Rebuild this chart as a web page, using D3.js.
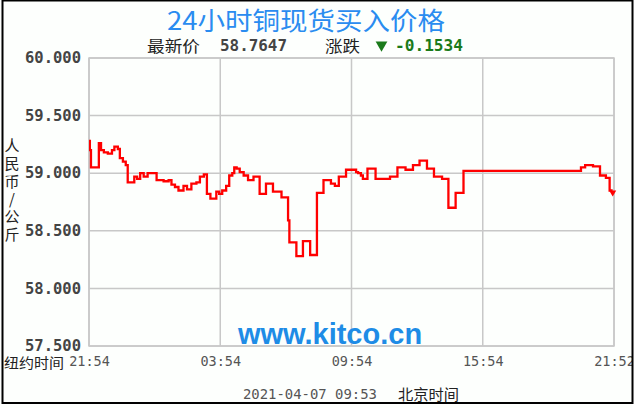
<!DOCTYPE html>
<html><head><meta charset="utf-8">
<script src="https://cdn.jsdelivr.net/npm/d3@7"></script>
<style>html,body{margin:0;padding:0;background:#fff;}svg{display:block;}</style>
</head><body>
<svg id="c" width="636" height="408"></svg>
<script>
// hours since 21:54 New York time, at which each price level starts
const hours = [0.00,0.04,0.09,0.45,0.55,0.68,0.86,1.05,1.16,1.32,1.41,1.55,1.68,1.77,2.07,2.20,2.34,2.50,2.68,3.09,
  3.41,3.64,3.77,3.93,4.09,4.32,4.48,4.68,4.91,5.07,5.25,5.39,5.55,5.82,5.95,6.09,6.27,6.41,6.55,6.64,
  6.75,6.89,7.07,7.27,7.52,7.80,8.09,8.41,8.80,9.10,9.16,9.48,9.78,10.11,10.42,10.72,11.06,11.24,11.42,11.75,
  12.21,12.30,12.43,12.52,12.73,13.10,13.76,14.10,14.47,14.81,15.11,15.45,15.77,16.14,16.43,16.76,17.12,22.49,22.68,23.04,
  23.36,23.63,23.80,23.94];
const prices = [59.28,59.20,59.05,59.26,59.20,59.18,59.17,59.20,59.23,59.21,59.13,59.10,59.07,58.92,58.97,58.95,59.00,58.97,59.00,58.94,
  58.93,58.94,58.90,58.88,58.85,58.89,58.86,58.91,58.92,58.97,58.99,58.82,58.78,58.84,58.82,58.85,58.89,58.98,59.00,59.05,
  59.04,59.01,58.98,58.94,58.97,58.82,58.91,58.84,58.79,58.59,58.40,58.28,58.41,58.29,58.83,58.94,58.91,58.89,58.97,59.03,
  59.01,59.00,58.98,58.95,59.04,58.95,58.97,59.05,59.03,59.07,59.11,59.04,58.97,58.95,58.70,58.83,59.02,59.05,59.07,59.06,
  58.98,58.96,58.85,58.85];
const xTickHours = [0,6,12,18,24];
const xTickLabels = ["21:54","03:54","09:54","15:54","21:52"];
const yTickValues = [57.5,58,58.5,59,59.5,60];
const titleText = "24小时铜现货买入价格";
const latestLabel = "最新价", latestValue = "58.7647";
const changeLabel = "涨跌", changeValue = "-0.1534";
const yTitle = "人民币/公斤";
const xTitle = "纽约时间";
const footerDate = "2021-04-07 09:53", footerZone = "北京时间";
const watermark = "www.kitco.cn";

const svg = d3.select("#c");
const L = 89, R = 614, T = 58, B = 346;
const x = d3.scaleLinear().domain([0,24]).range([L,R]);
const y = d3.scaleLinear().domain([57.5,60]).range([B,T]);
const mono = "'DejaVu Sans Mono', monospace";
const cjk = "'Noto Sans CJK SC', sans-serif";

svg.append("rect").attr("width",636).attr("height",408).attr("fill","#fdfffd");

// grid
const grid = svg.append("g");
grid.selectAll("line.h").data(yTickValues).join("line")
  .attr("x1",L).attr("x2",R).attr("y1",d=>y(d)).attr("y2",d=>y(d))
  .attr("stroke","#c8c8c8").attr("stroke-width",1.5);
grid.selectAll("line.v").data(xTickHours).join("line")
  .attr("y1",T).attr("y2",B).attr("x1",d=>x(d)).attr("x2",d=>x(d))
  .attr("stroke","#c8c8c8").attr("stroke-width",1.5);
svg.append("rect").attr("x",L).attr("y",T).attr("width",R-L).attr("height",B-T)
  .attr("fill","none").attr("stroke","#c8c8c8").attr("stroke-width",1.5);

// y axis labels
const yAxis = d3.axisLeft(y).tickValues(yTickValues).tickFormat(d3.format(".3f")).tickSize(0).tickPadding(0);
const ya = svg.append("g").attr("transform",`translate(${81},0)`).call(yAxis);
ya.select(".domain").remove();
ya.selectAll("text").attr("font-family",mono).attr("font-weight","bold").attr("font-size",15.5)
  .attr("fill","#444").attr("dy","0.3em");

// x axis labels
const xAxis = d3.axisBottom(x).tickValues(xTickHours).tickFormat((d,i)=>xTickLabels[i]).tickSize(0).tickPadding(0);
const xa = svg.append("g").attr("transform",`translate(0,${356})`).call(xAxis);
xa.select(".domain").remove();
xa.selectAll("text").attr("font-family",mono).attr("font-size",13.5).attr("fill","#555").attr("dy","0.71em");

svg.append("text").attr("x",4).attr("y",368).attr("font-family",cjk).attr("font-size",14)
  .attr("fill","#222").attr("textLength",60).attr("lengthAdjust","spacingAndGlyphs").text(xTitle);

// vertical y title (one text, upright characters)
svg.append("text").attr("x",12).attr("y",138)
  .attr("font-family",cjk).attr("font-size",15).attr("fill","#222")
  .style("writing-mode","vertical-rl").style("text-orientation","upright")
  .attr("textLength",104).attr("lengthAdjust","spacing")
  .text(yTitle);

// watermark
svg.append("text").attr("x",330).attr("y",344).attr("text-anchor","middle")
  .attr("font-family","'Liberation Sans', Arial, sans-serif").attr("font-weight","bold")
  .attr("font-size",29).attr("fill","#1e8ce6").text(watermark);

// price line
svg.append("clipPath").attr("id","pc").append("rect").attr("x",L).attr("y",T).attr("width",R-L).attr("height",B-T);
const line = d3.line().x(d=>x(d[0])).y(d=>y(d[1])).curve(d3.curveStepAfter);
const pts = hours.map((h,i)=>[h,prices[i]]);
svg.append("path").attr("d",line(pts)).attr("fill","none").attr("stroke","#ff0000")
  .attr("stroke-width",2.3).attr("clip-path","url(#pc)");
const last = pts[pts.length-1];
svg.append("path").attr("d",d3.symbol(d3.symbolTriangle,22)())
  .attr("transform",`translate(${x(last[0])},${y(last[1])+2}) rotate(180)`).attr("fill","#ff0000");

// title
svg.append("text").attr("x",306).attr("y",30).attr("text-anchor","middle")
  .attr("font-family",cjk).attr("font-size",25).attr("fill","#2a8cf0")
  .attr("textLength",278).attr("lengthAdjust","spacingAndGlyphs").text(titleText);

// subtitle
const sub = svg.append("g").attr("font-size",16);
sub.append("text").attr("x",147).attr("y",52).attr("font-family",cjk).attr("fill","#222")
  .attr("textLength",53).attr("lengthAdjust","spacingAndGlyphs").text(latestLabel);
sub.append("text").attr("x",220).attr("y",51).attr("font-family",mono).attr("font-weight","bold").attr("fill","#444")
  .attr("textLength",67).attr("lengthAdjust","spacingAndGlyphs").text(latestValue);
sub.append("text").attr("x",325).attr("y",52).attr("font-family",cjk).attr("fill","#222")
  .attr("textLength",35).attr("lengthAdjust","spacingAndGlyphs").text(changeLabel);
sub.append("path").attr("d",d3.symbol(d3.symbolTriangle,60)())
  .attr("transform","translate(381.5,45) rotate(180)").attr("fill","#1a7a1a");
sub.append("text").attr("x",395).attr("y",51).attr("font-family",mono).attr("font-weight","bold").attr("fill","#1a7a1a")
  .attr("textLength",68).attr("lengthAdjust","spacingAndGlyphs").text(changeValue);

// footer
svg.append("text").attr("x",243).attr("y",399).attr("font-family",mono).attr("font-size",13.5).attr("fill","#555")
  .attr("textLength",134).attr("lengthAdjust","spacingAndGlyphs").text(footerDate);
svg.append("text").attr("x",398).attr("y",400).attr("font-family",cjk).attr("font-size",15).attr("fill","#222")
  .attr("textLength",61).attr("lengthAdjust","spacingAndGlyphs").text(footerZone);

// outer border (drawn last, clips overflowing label)
svg.append("rect").attr("x",632).attr("y",0).attr("width",4).attr("height",408).attr("fill","#fff");
svg.append("rect").attr("x",2.5).attr("y",0.5).attr("width",630).attr("height",402.5)
  .attr("fill","none").attr("stroke","#000").attr("stroke-width",2);
</script>
</body></html>
